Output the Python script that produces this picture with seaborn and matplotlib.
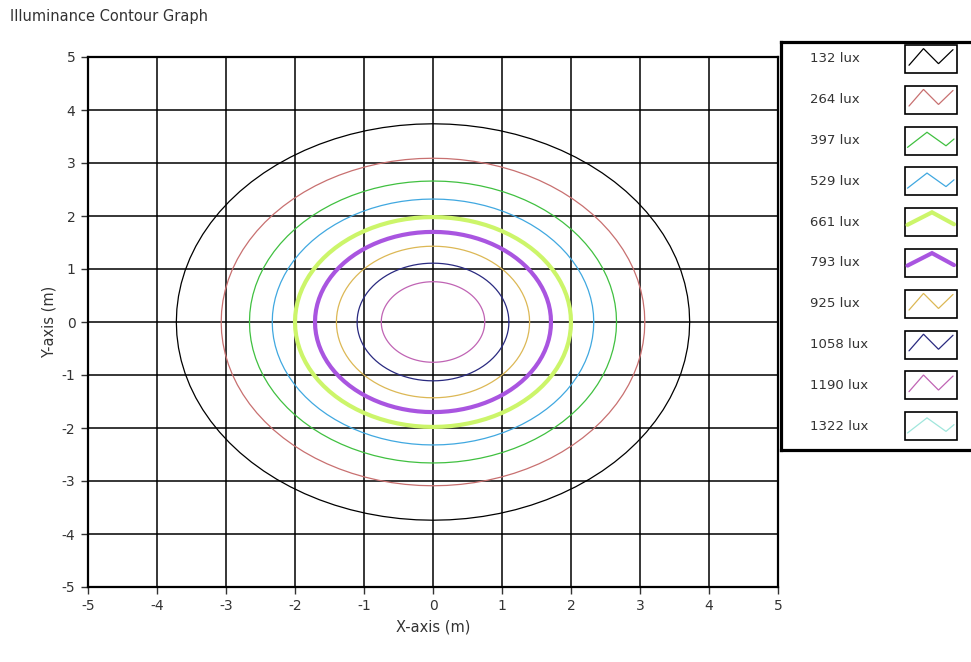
import numpy as np
import pandas as pd
import matplotlib
matplotlib.use("Agg")
import matplotlib.pyplot as plt
from matplotlib.patches import Rectangle
import seaborn as sns

# ---- data ----
levels = [132, 264, 397, 529, 661, 793, 925, 1058, 1190, 1322]
level_labels = [f"{v} lux" for v in levels]
level_colors = ["#000000", "#c87070", "#40c040", "#40a8e0", "#ccf56a",
                "#a955e0", "#dcb855", "#2a2a80", "#c064b4", "#a0e6dc"]
level_widths = [0.9, 0.9, 0.9, 0.9, 3.0, 3.0, 0.9, 0.9, 0.9, 0.9]
# contour half-widths (x) and half-heights (y) in metres for the levels drawn
radius_x = [3.72, 3.07, 2.66, 2.33, 2.00, 1.71, 1.40, 1.10, 0.75]
radius_y = [3.74, 3.09, 2.66, 2.32, 1.98, 1.70, 1.43, 1.11, 0.76]
x_ticks = [-5, -4, -3, -2, -1, 0, 1, 2, 3, 4, 5]
y_ticks = [-5, -4, -3, -2, -1, 0, 1, 2, 3, 4, 5]

sns.set_theme(style="white")
plt.rcParams["font.family"] = ["DejaVu Sans"]
plt.rcParams["axes.unicode_minus"] = False

W, H = 971, 662
fig = plt.figure(figsize=(W / 100, H / 100), dpi=100)
fig.patch.set_facecolor("white")

L, R, T, B = 88, 778, 57, 587
ax = fig.add_axes([L / W, 1 - B / H, (R - L) / W, (B - T) / H])
ax.set_facecolor("white")

theta = np.linspace(0, 2 * np.pi, 97)
for rx, ry, col, lw in zip(radius_x, radius_y, level_colors, level_widths):
    df = pd.DataFrame({"x": rx * np.cos(theta), "y": ry * np.sin(theta)})
    sns.lineplot(data=df, x="x", y="y", sort=False, estimator=None,
                 color=col, lw=lw, ax=ax, zorder=3)

ax.set_xlim(-5, 5)
ax.set_ylim(-5, 5)
ax.set_xticks(x_ticks)
ax.set_yticks(y_ticks)
ax.set_xticklabels([str(t) for t in x_ticks])
ax.set_yticklabels([str(t) for t in y_ticks])
ax.grid(True, color="black", lw=1.1)
ax.set_axisbelow(True)
for s in ax.spines.values():
    s.set_color("black")
    s.set_linewidth(1.6)
ax.tick_params(axis="both", direction="out", length=5, width=1, color="#333333",
               labelsize=10, labelcolor="#333333", bottom=True, left=True, pad=4)
ax.set_xlabel("X-axis (m)", fontsize=10.5, color="#333333", labelpad=4)
ax.set_ylabel("Y-axis (m)", fontsize=10.5, color="#333333", labelpad=4)

fig.text(10 / W, 1 - 16 / H, "Illuminance Contour Graph", fontsize=10.5,
         color="#333333", ha="left", va="center")

# ---- legend panel ----
LL, LT, LB = 781, 42, 450
lax = fig.add_axes([LL / W, 1 - LB / H, 200 / W, (LB - LT) / H])
lax.set_xlim(0, 200)
lax.set_ylim(LB - LT, 0)
lax.set_xticks([])
lax.set_yticks([])
lax.set_facecolor("white")
for s in lax.spines.values():
    s.set_color("black")
    s.set_linewidth(2.3)

zig4 = ([0.06, 0.35, 0.65, 0.94], [0.74, 0.10, 0.68, 0.14])
zig3 = ([0.03, 0.42, 0.80, 0.96], [0.76, 0.18, 0.70, 0.44])
caret = ([0.03, 0.52, 0.96], [0.60, 0.12, 0.58])
shapes = [zig4, zig4, zig3, zig3, caret, caret, zig4, zig4, zig4, zig3]
for i, (lab, col, lw, shp) in enumerate(zip(level_labels, level_colors,
                                             level_widths, shapes)):
    cy = 17 + i * 40.8
    lax.text(29, cy, lab, fontsize=9.5, color="#333333", va="center", ha="left")
    bx, bw, bh = 905 - LL, 52, 28
    lax.add_patch(Rectangle((bx, cy - bh / 2), bw, bh, facecolor="white",
                            edgecolor="black", lw=1.2))
    xs, ys = shp
    lax.plot([bx + 1 + f * (bw - 2) for f in xs],
             [cy - bh / 2 + 1 + f * (bh - 2) for f in ys],
             color=col, lw=lw, solid_joinstyle="miter")

fig.savefig("out.png", dpi=100, facecolor="white")
